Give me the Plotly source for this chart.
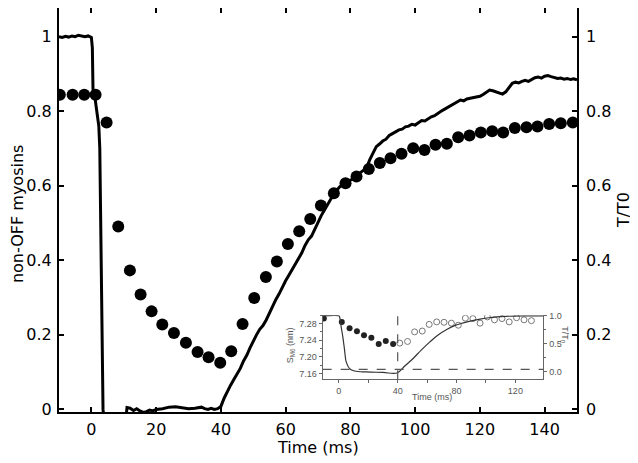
import plotly.graph_objects as go

# ---- main chart data ----
# non-OFF myosins (left axis), filled circles
dots_t = [-9.75, -5.8, -2.2, 1.3, 4.7, 8.3, 11.9, 15.2, 18.6, 21.9, 25.5, 29.2, 32.8, 36.2, 39.8,
          43.2, 46.7, 50.3, 53.9, 57.3, 60.7, 64.2, 67.6, 70.9, 74.9, 78.5, 81.9, 85.7, 89.1, 92.4,
          95.8, 99.4, 102.9, 106.3, 109.8, 113.3, 116.8, 120.3, 123.8, 127.2, 130.8, 134.4, 137.8,
          141.4, 145.0, 148.7]
dots_v = [0.844, 0.844, 0.844, 0.844, 0.770, 0.491, 0.373, 0.308, 0.263, 0.228, 0.205, 0.179, 0.154,
          0.140, 0.125, 0.156, 0.229, 0.299, 0.355, 0.397, 0.444, 0.478, 0.511, 0.547, 0.580, 0.607,
          0.625, 0.645, 0.661, 0.674, 0.686, 0.701, 0.696, 0.710, 0.713, 0.730, 0.735, 0.743, 0.746,
          0.743, 0.755, 0.757, 0.759, 0.766, 0.768, 0.770]

# tension T/T0 (right axis), noisy trace
tension_t = [-10, -9, -8, -7, -6, -5, -4, -3, -2, -1, 0, 0.3, 0.5, 1.2, 1.7, 2.3, 2.6, 2.9, 3.3, 3.6,
             4.0, 10.5, 11, 12, 13, 14, 15, 16, 17, 18, 19, 20, 22, 24, 26, 28, 30, 32, 34, 35, 36,
             37, 38, 39, 40, 41, 42, 43, 44, 45, 46, 47, 48, 49, 50, 51, 52, 53, 54, 55, 56, 57, 58,
             59, 60, 61, 62, 63, 64, 65, 66, 67, 68, 69, 70, 71, 72, 73, 74, 75, 76, 77, 78, 79, 80,
             81, 82, 83, 84, 85, 86, 87, 88, 89, 90, 91, 92, 93, 94, 95, 96, 97, 98, 99, 100, 101,
             102, 103, 104, 105, 106, 107, 108, 109, 110, 111, 112, 113, 114, 115, 116, 117, 118,
             119, 120, 121, 122, 123, 124, 125, 126, 127, 128, 129, 130, 131, 132, 133, 134, 135,
             136, 137, 138, 139, 140, 141, 142, 143, 144, 145, 146, 147, 148, 149, 150]
tension_v = [1.0, 0.998, 1.001, 0.999, 1.002, 1.0, 1.004, 1.003, 1.0, 1.002, 0.998, 0.97, 0.86, 0.83,
             0.8, 0.76, 0.7, 0.45, 0.2, 0.0, -0.04, -0.04, 0.005, 0.003, -0.003, 0.002, -0.004,
             -0.008, -0.006, -0.002, -0.004, 0.0, 0.002, 0.006, 0.007, 0.005, 0.002, 0.003, 0.006,
             0.002, 0.0, 0.003, 0.0, 0.002, 0.008, 0.03, 0.05, 0.065, 0.08, 0.095, 0.11, 0.13, 0.145,
             0.165, 0.185, 0.2, 0.215, 0.225, 0.24, 0.26, 0.28, 0.295, 0.31, 0.33, 0.345, 0.36,
             0.375, 0.39, 0.405, 0.42, 0.44, 0.455, 0.465, 0.485, 0.505, 0.52, 0.535, 0.55, 0.565,
             0.575, 0.59, 0.6, 0.607, 0.612, 0.615, 0.62, 0.628, 0.635, 0.64, 0.648, 0.67, 0.69,
             0.705, 0.712, 0.72, 0.725, 0.735, 0.74, 0.745, 0.75, 0.752, 0.758, 0.76, 0.765, 0.763,
             0.77, 0.775, 0.774, 0.78, 0.785, 0.788, 0.795, 0.8, 0.805, 0.81, 0.815, 0.818, 0.825,
             0.83, 0.828, 0.833, 0.835, 0.836, 0.838, 0.84, 0.845, 0.85, 0.857, 0.855, 0.852, 0.848,
             0.846, 0.852, 0.865, 0.875, 0.878, 0.876, 0.88, 0.883, 0.88, 0.886, 0.89, 0.892, 0.889,
             0.894, 0.896, 0.893, 0.89, 0.888, 0.889, 0.886, 0.888, 0.885, 0.887, 0.884]

main_ticks = [0, 0.2, 0.4, 0.6, 0.8, 1]
time_ticks = [0, 20, 40, 60, 80, 100, 120, 140]

# ---- inset data ----
inset_filled_t = [-10.2, 2.0, 7.3, 12.3, 17.1, 22.1, 27.1, 31.9, 36.9]
inset_filled_s = [7.292, 7.284, 7.269, 7.2615, 7.252, 7.246, 7.231, 7.238, 7.231]
inset_open_t = [41.4, 46.7, 51.5, 56.7, 61.4, 66.5, 71.5, 76.5, 81.2, 86.0, 91.1, 96.0, 101.0,
                105.8, 110.9, 115.8, 120.8, 125.9, 130.9]
inset_open_s = [7.233, 7.237, 7.260, 7.262, 7.278, 7.284, 7.283, 7.281, 7.276, 7.293, 7.292,
                7.281, 7.296, 7.289, 7.292, 7.284, 7.294, 7.289, 7.287]
inset_line_t = [-11, 0, 0.5, 1.6, 2.7, 3.9, 5.0, 7.3, 10.7, 18.7, 30, 39.6, 45, 50.5, 56, 61.9, 67,
                73.3, 79, 84.6, 90, 96, 102, 107.4, 113, 118.8, 130, 139]
inset_line_T = [1.0, 1.0, 0.98, 0.80, 0.625, 0.39, 0.18, 0.06, 0.018, 0.0, -0.008, -0.018, 0.11,
                0.24, 0.39, 0.536, 0.65, 0.756, 0.83, 0.875, 0.91, 0.94, 0.965, 0.98, 0.99, 0.995,
                1.0, 1.0]
inset_time_ticks = [0, 40, 80, 120]
inset_s_ticks = [7.16, 7.20, 7.24, 7.28]
inset_T_ticks = [0.0, 0.5, 1.0]
inset_ref_s = 7.17
inset_switch_t = 40

BLACK = "#000000"
GRAY = "#666666"
TGRAY = "#555555"
FONT = "DejaVu Sans"
IFONT = "Liberation Sans"

INSET_Y = [0.081, 0.2395]

fig = go.Figure()

fig.add_trace(go.Scatter(x=tension_t, y=tension_v, mode="lines",
                         line=dict(color=BLACK, width=3), xaxis="x", yaxis="y2",
                         showlegend=False, hoverinfo="skip"))
fig.add_trace(go.Scatter(x=dots_t, y=dots_v, mode="markers",
                         marker=dict(color=BLACK, size=12, line=dict(width=0)),
                         xaxis="x", yaxis="y", showlegend=False))

# inset traces
fig.add_trace(go.Scatter(x=inset_line_t, y=inset_line_T, mode="lines",
                         line=dict(color="#333", width=1.2, shape="spline"),
                         xaxis="x2", yaxis="y4", showlegend=False))
fig.add_trace(go.Scatter(x=inset_filled_t, y=inset_filled_s, mode="markers",
                         marker=dict(color="#222", size=6), xaxis="x2", yaxis="y3", showlegend=False))
fig.add_trace(go.Scatter(x=inset_open_t, y=inset_open_s, mode="markers",
                         marker=dict(color="white", size=6, line=dict(color="#777", width=1)),
                         xaxis="x2", yaxis="y3", showlegend=False))

fig.add_shape(type="line", xref="x2", yref="y3", x0=-11, x1=139, y0=inset_ref_s, y1=inset_ref_s,
              line=dict(color=TGRAY, width=1.2, dash="dash"))
fig.add_shape(type="line", xref="x2", yref="paper", x0=inset_switch_t, x1=inset_switch_t,
              y0=INSET_Y[0], y1=INSET_Y[1] + 0.003, line=dict(color=TGRAY, width=1.2, dash="dash"))

axis_common = dict(showgrid=False, zeroline=False, linecolor=BLACK, linewidth=2, automargin=False,
                   ticks="inside", ticklen=5, tickwidth=2, tickcolor=BLACK,
                   tickfont=dict(family=FONT, size=16, color=BLACK))
inset_common = dict(showgrid=False, zeroline=False, showline=True, linecolor=GRAY, linewidth=1,
                    automargin=False, ticks="outside", ticklen=3, tickcolor=GRAY,
                    tickfont=dict(family=IFONT, size=9, color=TGRAY))

# page body has an 8px margin, so the figure is 8px smaller than the window
fig.update_layout(
    width=630, height=455,
    margin=dict(l=51, r=61, t=0, b=51, autoexpand=False),
    paper_bgcolor="white", plot_bgcolor="white",
    font=dict(family=FONT, color=BLACK),
    xaxis=dict(**axis_common, domain=[0, 1], range=[-10, 150], tickvals=time_ticks, showline=True,
               mirror="ticks", anchor="y", ticklabelstandoff=2),
    yaxis=dict(**axis_common, range=[-0.007, 1.077], tickvals=main_ticks, showline=True, mirror="ticks",
               ticklabelstandoff=2),
    yaxis2=dict(**axis_common, range=[-0.007, 1.077], tickvals=main_ticks, overlaying="y", side="right",
                anchor="x", showline=False, ticklabelstandoff=8),
    xaxis2=dict(**inset_common, domain=[0.509, 0.935], anchor="y3", range=[-11, 139],
                tickvals=inset_time_ticks,
                minor=dict(ticks="outside", ticklen=3, tickcolor=GRAY, dtick=20, tick0=0)),
    yaxis3=dict(**inset_common, domain=INSET_Y, anchor="x2", range=[7.146, 7.300],
                tickvals=inset_s_ticks, tickformat=".2f",
                minor=dict(ticks="outside", ticklen=2, tickcolor=GRAY, dtick=0.02, tick0=7.16)),
    yaxis4=dict(**inset_common, overlaying="y3", side="right", anchor="x2", range=[-0.13, 1.01],
                tickvals=inset_T_ticks, tickformat=".1f",
                minor=dict(ticks="outside", ticklen=2, tickcolor=GRAY, dtick=0.25)),
    annotations=[
        dict(text="Time (ms)", xref="paper", yref="paper", x=0.5, y=-0.087, showarrow=False,
             xanchor="center", yanchor="middle", font=dict(family=FONT, size=16, color=BLACK)),
        dict(text="non-OFF myosins", xref="paper", yref="paper", x=-0.081, y=0.49, showarrow=False,
             textangle=-90, xanchor="center", yanchor="middle",
             font=dict(family=FONT, size=16, color=BLACK)),
        dict(text="T/T0", xref="paper", yref="paper", x=1.089, y=0.5, showarrow=False,
             textangle=-90, xanchor="center", yanchor="middle",
             font=dict(family=FONT, size=16, color=BLACK)),
        dict(text="Time (ms)", xref="paper", yref="paper", x=0.72, y=0.036, showarrow=False,
             xanchor="center", yanchor="middle", font=dict(family=IFONT, size=9, color=TGRAY)),
        dict(text="S<sub>M6</sub> (nm)", xref="paper", yref="paper", x=0.446, y=0.165, showarrow=False,
             textangle=-90, xanchor="center", yanchor="middle",
             font=dict(family=IFONT, size=9, color=TGRAY)),
        dict(text="T/T<sub>0</sub>", xref="paper", yref="paper", x=0.977, y=0.19, showarrow=False,
             textangle=90, xanchor="center", yanchor="middle",
             font=dict(family=IFONT, size=9, color=TGRAY)),
    ],
)

fig.write_html("out.html")
